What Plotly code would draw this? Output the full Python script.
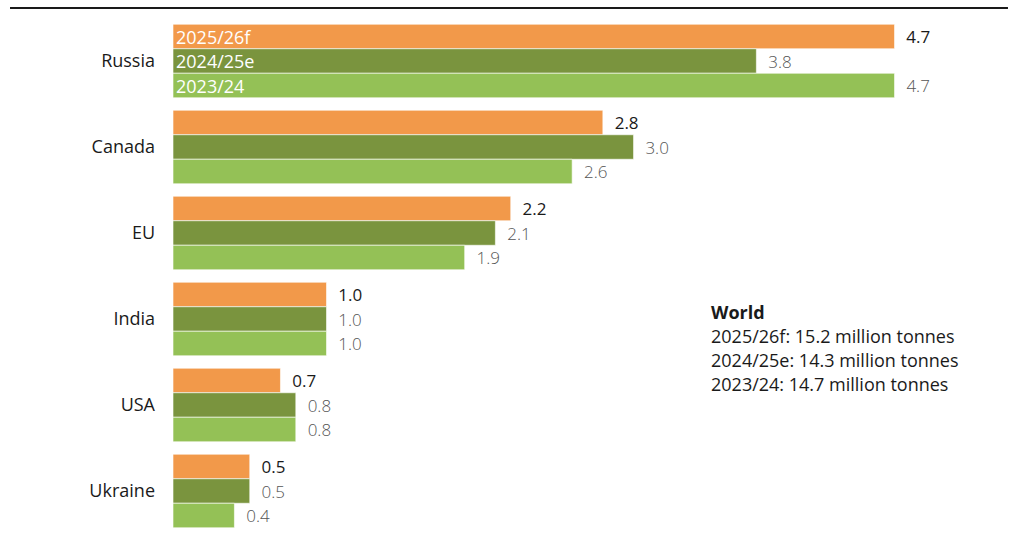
import plotly.graph_objects as go

categories = ["Russia", "Canada", "EU", "India", "USA", "Ukraine"]
series_names = ["2025/26f", "2024/25e", "2023/24"]
v_2025_26f = [4.7, 2.8, 2.2, 1.0, 0.7, 0.5]
v_2024_25e = [3.8, 3.0, 2.1, 1.0, 0.8, 0.5]
v_2023_24 = [4.7, 2.6, 1.9, 1.0, 0.8, 0.4]
world_title = "World"
world_lines = [
    "2025/26f: 15.2 million tonnes",
    "2024/25e: 14.3 million tonnes",
    "2023/24: 14.7 million tonnes",
]

colors = ["#F2994A", "#7A943E", "#94C156"]
label_colors = ["#1a1a1a", "#555555", "#555555"]
label_weights = [500, 300, 300]
FONT = "Open Sans"

fig = go.Figure()
for name, vals, col, lc, lw in zip(series_names, [v_2025_26f, v_2024_25e, v_2023_24],
                                   colors, label_colors, label_weights):
    fig.add_trace(go.Bar(
        y=categories, x=vals, name=name, orientation="h",
        marker=dict(color=col, line=dict(width=0.6, color="white")),
        texttemplate="\u00a0\u00a0%{x:.1f}", textposition="outside",
        outsidetextfont=dict(family=FONT, size=17, color=lc, weight=lw),
        cliponaxis=False, hoverinfo="skip",
    ))

# series labels inside the Russia bars
for i, name in enumerate(series_names):
    fig.add_annotation(
        x=0, y=categories[0], xref="x", yref="y", text=name, showarrow=False,
        xanchor="left", yanchor="middle", xshift=1, yshift=(1 - i) * 24.5,
        font=dict(family=FONT, size=18, color="#ffffff", weight=400),
    )

# World annotation
fig.add_annotation(
    x=0.6465, y=0.43, xref="paper", yref="paper", text="<b>" + world_title + "</b>",
    showarrow=False, xanchor="left", yanchor="middle", align="left",
    font=dict(family=FONT, size=18, color="#1a1a1a"),
)
for k, line in enumerate(world_lines):
    fig.add_annotation(
        x=0.6465, y=0.43 - (k + 1) * 0.0466, xref="paper", yref="paper", text=line,
        showarrow=False, xanchor="left", yanchor="middle", align="left",
        font=dict(family=FONT, size=18, color="#1a1a1a"),
    )

# top rule
fig.add_shape(type="line", xref="paper", yref="paper", x0=-0.1966, x1=1.0072,
              y0=1.0194, y1=1.0194, line=dict(color="#1a1a1a", width=2))

fig.update_layout(
    width=1010, height=540, barmode="group", bargap=0.145, bargroupgap=0,
    margin=dict(l=173, r=8, t=18, b=6), showlegend=False,
    plot_bgcolor="white", paper_bgcolor="white",
    font=dict(family=FONT, size=18, color="#1a1a1a"),
    xaxis=dict(range=[0, 5.4], visible=False, showgrid=False, zeroline=False),
    yaxis=dict(autorange="reversed", showgrid=False, zeroline=False, showline=False,
               ticks="", ticklabelstandoff=17,
               tickfont=dict(family=FONT, size=18, color="#1a1a1a")),
)

fig.write_html("out.html")
